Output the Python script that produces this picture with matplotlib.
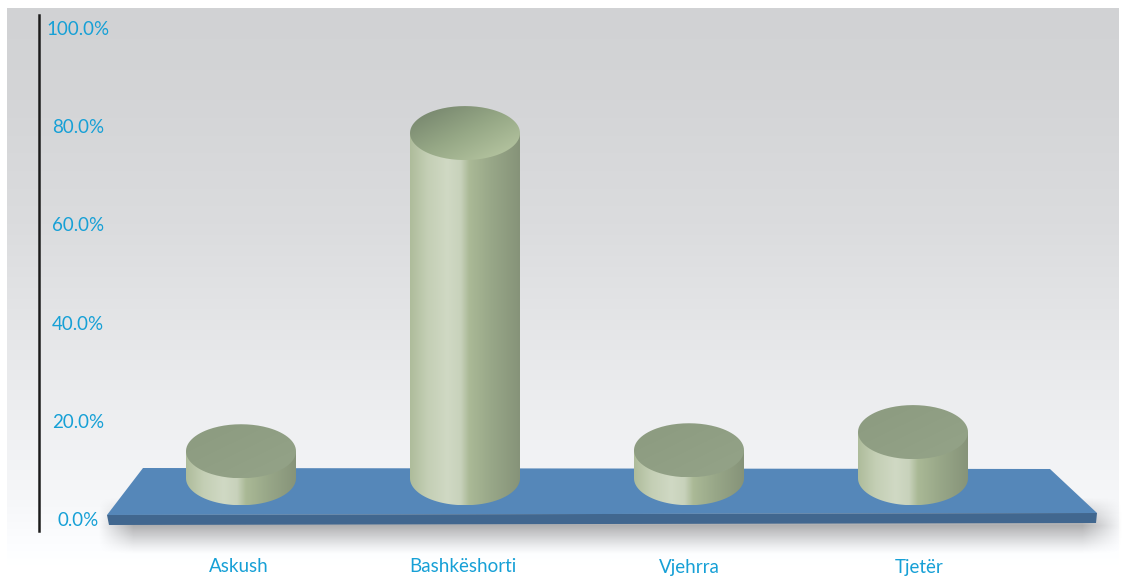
import numpy as np
import matplotlib
matplotlib.use('Agg')
import matplotlib.pyplot as plt
from matplotlib.colors import LinearSegmentedColormap
from matplotlib.patches import PathPatch, Polygon
from matplotlib.path import Path
from matplotlib.transforms import ScaledTranslation

categories = ['Askush', 'Bashkëshorti', 'Vjehrra', 'Tjetër']
values = [13.8, 78.6, 14.0, 17.7]
y_ticks = [0, 20, 40, 60, 80, 100]
y_labels = ['0.0%', '20.0%', '40.0%', '60.0%', '80.0%', '100.0%']

W, H = 1124, 577
text_blue = '#16a0d6'

# pixel scale of the original picture
y0_px = 519
px_per_pct = 4.91
x0_px = 241
px_per_cat = 224
base_val = 8.3      # centre of the cylinder floor
half_w = 55 / px_per_cat
half_h = 27 / px_per_pct
label_shift_px = [-2, -2, 0, 6]


def dx(px):
    return (px - x0_px) / px_per_cat


def dy(py):
    return (y0_px - py) / px_per_pct


def rgb(c):
    return np.array(c) / 255


plt.rcParams['font.family'] = ['Lato', 'DejaVu Sans']
fig = plt.figure(figsize=(W / 100, H / 100), dpi=100)
ax = fig.add_axes([0, 0, 1, 1])
xlim = (dx(0), dx(W))
ylim = (dy(H), dy(0))

# background gradient
py = np.array([8, 100, 224, 320, 420, 500, 566])
level = np.array([209, 212, 219, 228, 238, 246, 255])
rows = np.arange(8, 567)
bg = np.stack([np.interp(rows, py, level + d) for d in (0, 1, 3)], axis=1) / 255
bg = np.clip(bg, 0, 1)[:, None, :]
ax.imshow(bg, extent=(dx(7), dx(1118), dy(566), dy(8)), aspect='auto', zorder=0)

# soft shadow under the platform
sx = np.arange(80, 1125)
sy = np.arange(495, 560)
fade_x = np.clip((sx - 98) / 35, 0, 1) * np.clip((1122 - sx) / 40, 0, 1)
fade_y = np.clip((sy - 497) / 28, 0, 1) * np.clip((554 - sy) / 29, 0, 1) ** 1.2
shadow = np.zeros((len(sy), len(sx), 4))
shadow[..., 3] = 0.30 * np.outer(fade_y, fade_x)
ax.imshow(shadow, extent=(dx(80), dx(1125), dy(560), dy(495)), aspect='auto', zorder=1)

# platform
top_pts = [(107, 515), (143, 468), (1050, 469), (1097, 513)]
front_pts = [(107, 515), (1097, 513), (1096, 523), (109, 525)]
ax.add_patch(Polygon([(dx(a), dy(b)) for a, b in top_pts], closed=True,
                     fc='#5587b9', ec='none', zorder=2))
ax.add_patch(Polygon([(dx(a), dy(b)) for a, b in front_pts], closed=True,
                     fc='#41678f', ec='none', zorder=3))

side_cmap = LinearSegmentedColormap.from_list('side', [
    (0.00, rgb((174, 188, 155))),
    (0.16, rgb((196, 207, 181))),
    (0.34, rgb((208, 217, 196))),
    (0.46, rgb((200, 210, 187))),
    (0.54, rgb((170, 185, 150))),
    (0.74, rgb((152, 167, 136))),
    (1.00, rgb((134, 147, 121))),
])
flat_cmap = LinearSegmentedColormap.from_list('cap', [
    rgb((141, 156, 129)), rgb((147, 162, 135))])
tall_cmap = LinearSegmentedColormap.from_list('captall', [
    rgb((124, 140, 114)), rgb((150, 168, 134)), rgb((176, 192, 156))])

# cylinders
theta = np.linspace(0, 2 * np.pi, 181)
ramp = np.linspace(0, 1, 256)[None, :]
gx, gy = np.meshgrid(np.linspace(0, 1, 120), np.linspace(0, 1, 60))
for i, val in enumerate(values):
    left, right = i - half_w, i + half_w
    lower = np.linspace(np.pi, 2 * np.pi, 91)
    xs = np.r_[i + half_w * np.cos(lower), right, left]
    ys = np.r_[base_val + half_h * np.sin(lower), val, val]
    side = PathPatch(Path(np.c_[xs, ys]), fc='none', ec='none', zorder=4)
    ax.add_patch(side)
    im = ax.imshow(ramp, cmap=side_cmap, vmin=0, vmax=1, aspect='auto', zorder=4,
                   extent=(left, right, base_val - half_h, val))
    im.set_clip_path(side)

    cap = PathPatch(Path(np.c_[i + half_w * np.cos(theta), val + half_h * np.sin(theta)]),
                    fc='none', ec='none', zorder=5)
    ax.add_patch(cap)
    # the tall one catches more light towards the lower right
    cmap = tall_cmap if val > 50 else flat_cmap
    im = ax.imshow((gx + gy) / 2, cmap=cmap, vmin=0.15, vmax=0.85, aspect='auto',
                   zorder=5, origin='upper',
                   extent=(left, right, val - half_h, val + half_h))
    im.set_clip_path(cap)

ax.set_xlim(*xlim)
ax.set_ylim(*ylim)
ax.patch.set_visible(False)
fig.patch.set_facecolor('white')

for name in ['top', 'right']:
    ax.spines[name].set_visible(False)
ax.spines['bottom'].set_position(('data', dy(567)))
ax.spines['bottom'].set_visible(False)
ax.spines['left'].set_position(('data', dx(39)))
ax.spines['left'].set_bounds(dy(531), dy(15))
ax.spines['left'].set_linewidth(1.8)
ax.spines['left'].set_color('#1c1c1c')
ax.spines['left'].set_zorder(6)

ax.set_yticks(y_ticks, y_labels)
ax.set_xticks(range(len(categories)), categories)
ax.tick_params(axis='y', length=0, pad=-28, labelsize=13.5, labelcolor=text_blue)
ax.tick_params(axis='x', length=0, pad=0, labelsize=13.5, labelcolor=text_blue)
for lab in ax.get_yticklabels():
    lab.set_ha('center')
for lab, shift in zip(ax.get_xticklabels(), label_shift_px):
    lab.set_va('center')
    lab.set_transform(lab.get_transform() + ScaledTranslation(shift / 100, 0, fig.dpi_scale_trans))

fig.savefig('out.png', dpi=100)
